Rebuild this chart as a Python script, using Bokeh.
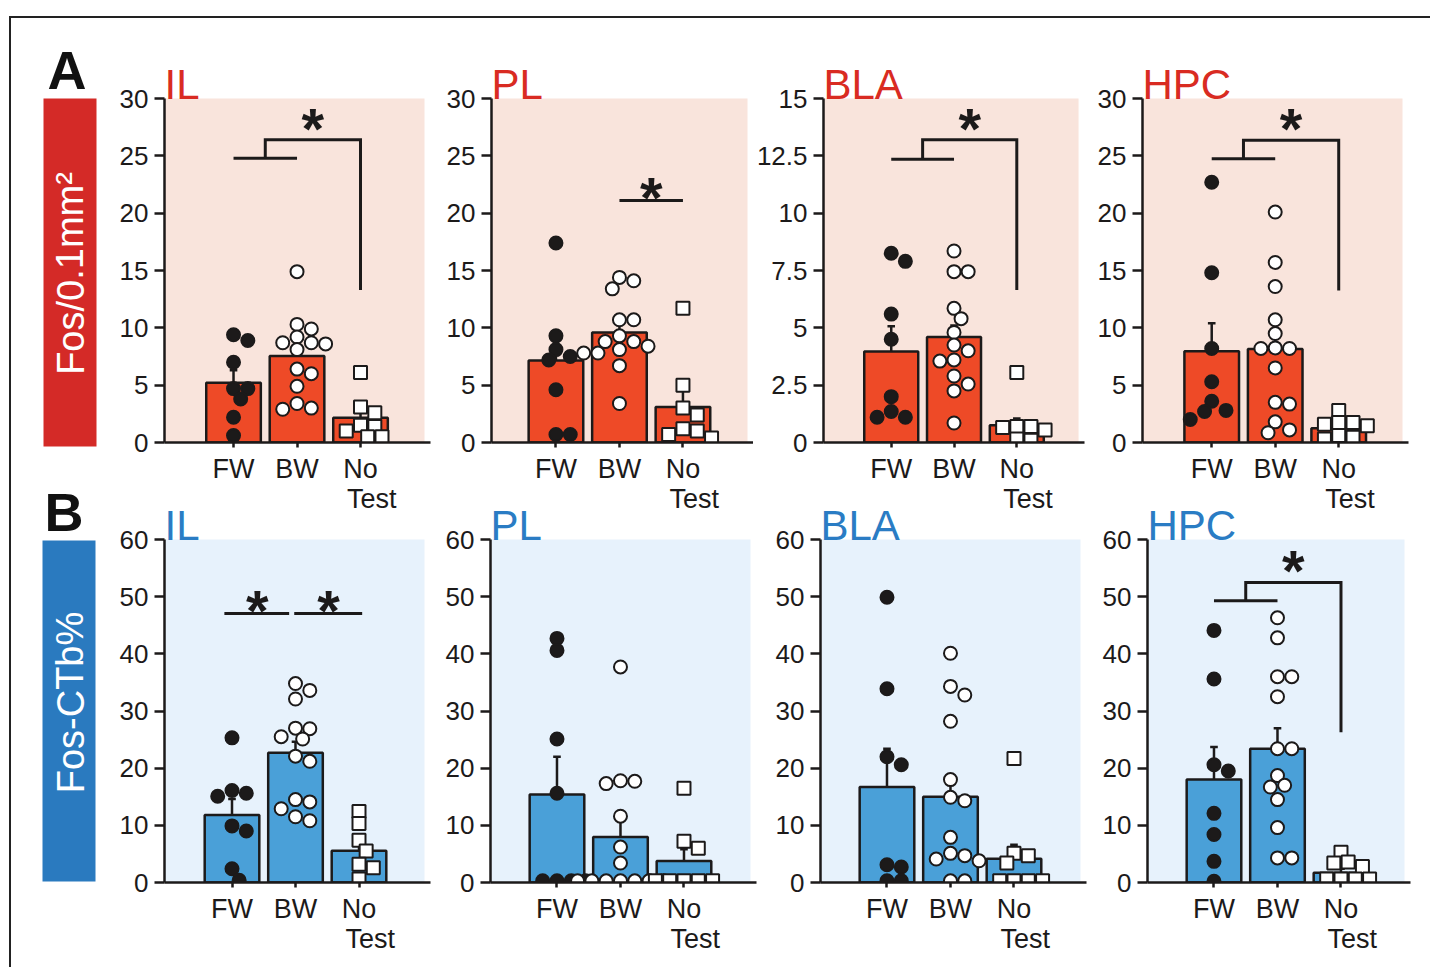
import math
from bokeh.plotting import figure
from bokeh.models import Range1d, FixedTicker, BoxAnnotation
from bokeh.layouts import row, column
from bokeh.embed import file_html
from bokeh.resources import INLINE
from bokeh.core.properties import value

# ---------------- data ----------------
GROUPS = ["FW", "BW", "No Test"]
REGIONS = ["IL", "PL", "BLA", "HPC"]

# Panel A: Fos/0.1mm2
A_IL_FW = [9.4, 8.9, 7.0, 4.7, 4.7, 3.8, 2.2, 0.6]
A_IL_BW = [14.9, 10.3, 9.9, 9.2, 8.7, 8.7, 8.6, 8.1, 6.4, 6.0, 4.9, 3.4, 3.0, 2.9]
A_IL_NT = [6.1, 3.1, 2.6, 1.5, 1.4, 1.0, 0.5, 0.5]
A_IL_MEAN = [5.2, 7.55, 2.15]
A_IL_SEM = [1.1, 0.8, 0.6]

A_PL_FW = [17.4, 9.3, 8.1, 7.5, 7.2, 4.6, 0.7, 0.7]
A_PL_BW = [14.4, 14.1, 13.4, 10.7, 10.7, 9.3, 8.8, 8.8, 8.4, 8.1, 7.8, 7.8, 6.7, 3.4]
A_PL_NT = [11.7, 5.0, 3.0, 2.4, 1.2, 1.0, 0.7, 0.4]
A_PL_MEAN = [7.15, 9.6, 3.1]
A_PL_SEM = [1.85, 0.8, 1.45]

A_BLA_FW = [8.25, 7.9, 5.6, 4.5, 2.0, 1.35, 1.1, 1.1]
A_BLA_BW = [8.35, 7.45, 7.45, 5.85, 5.4, 4.8, 4.25, 4.0, 3.6, 3.55, 2.9, 2.55, 2.25, 0.85]
A_BLA_NT = [3.05, 0.7, 0.7, 0.65, 0.55, 0.15, 0.1]
A_BLA_MEAN = [3.97, 4.6, 0.75]
A_BLA_SEM = [1.1, 0.5, 0.3]

A_HPC_FW = [22.7, 14.8, 8.2, 5.3, 3.6, 2.8, 2.7, 2.0]
A_HPC_BW = [20.1, 15.7, 13.6, 10.7, 9.5, 8.25, 8.2, 8.2, 6.5, 3.5, 3.35, 1.8, 1.1, 0.85]
A_HPC_NT = [2.8, 1.75, 1.75, 1.6, 1.45, 0.6, 0.45, 0.3]
A_HPC_MEAN = [7.95, 8.15, 1.25]
A_HPC_SEM = [2.45, 1.4, 0.55]

# Panel B: Fos-CTb%
B_IL_FW = [25.3, 16.1, 15.6, 15.1, 9.9, 9.0, 2.4, 0.4]
B_IL_BW = [34.8, 33.6, 32.1, 27.0, 26.9, 25.5, 25.1, 22.1, 21.2, 14.5, 14.1, 12.9, 11.5, 10.8]
B_IL_NT = [12.4, 10.3, 7.4, 5.5, 3.2, 2.6, 0.6]
B_IL_MEAN = [11.8, 22.7, 5.55]
B_IL_SEM = [2.8, 1.9, 1.2]

B_PL_FW = [42.7, 40.6, 25.1, 15.6, 0.3, 0.3, 0.3, 0.3]
B_PL_BW = [37.7, 17.8, 17.7, 17.3, 11.6, 6.2, 3.4, 0.3, 0.3, 0.3, 0.3, 0.3, 0.3, 0.3]
B_PL_NT = [16.5, 7.2, 6.0, 0.3, 0.3, 0.3, 0.3, 0.3]
B_PL_MEAN = [15.4, 7.95, 3.75]
B_PL_SEM = [6.6, 2.85, 2.05]

B_BLA_FW = [49.9, 33.9, 22.0, 20.6, 3.1, 2.7, 0.3, 0.3]
B_BLA_BW = [40.1, 34.3, 32.8, 28.2, 18.0, 14.9, 14.3, 7.9, 5.1, 4.7, 4.1, 3.8, 0.3, 0.3]
B_BLA_NT = [21.7, 5.1, 4.7, 3.4, 0.3, 0.3, 0.3, 0.3]
B_BLA_MEAN = [16.7, 15.0, 4.15]
B_BLA_SEM = [6.7, 3.7, 2.45]

B_HPC_FW = [44.1, 35.6, 20.6, 19.5, 12.1, 8.4, 3.7, 0.2]
B_HPC_BW = [46.3, 42.8, 36.0, 36.0, 32.5, 23.4, 23.4, 18.7, 17.0, 16.7, 14.5, 9.6, 4.3, 4.3]
B_HPC_NT = [5.3, 3.6, 3.4, 2.8, 0.6, 0.6, 0.6, 0.6]
B_HPC_MEAN = [18.0, 23.4, 1.7]
B_HPC_SEM = [5.7, 3.6, 0.7]

A_TICKS_30 = [0, 5, 10, 15, 20, 25, 30]
A_TICKS_15 = [0, 2.5, 5, 7.5, 10, 12.5, 15]
B_TICKS = [0, 10, 20, 30, 40, 50, 60]

# significance annotations (heights in data units)
SIG_A = [
    {"kind": "bracket", "lo": 24.8, "hi": 26.4, "drop": 13.3, "star": 28.45},
    {"kind": "lines", "segs": [(2.0, 3.0)], "y": 21.1, "stars": [(2.5, 22.4)]},
    {"kind": "bracket", "lo": 12.35, "hi": 13.2, "drop": 6.65, "star": 14.2},
    {"kind": "bracket", "lo": 24.75, "hi": 26.35, "drop": 13.25, "star": 28.4},
]
SIG_B = [
    {"kind": "lines", "segs": [(0.88, 1.9), (1.98, 3.05)], "y": 47.05,
     "stars": [(1.4, 49.7), (2.52, 49.7)]},
    None,
    None,
    {"kind": "bracket", "lo": 49.3, "hi": 52.5, "drop": 26.3, "star": 56.6},
]

# ---------------- style ----------------
FONT = "Liberation Sans"
INK = "#1c1a1a"
RED_BOX = "#d42a27"
RED_TXT = "#d92b22"
RED_BAR = "#ee4a27"
PINK = "#f9e4dc"
BLUE_BOX = "#2a7abf"
BLUE_TXT = "#2a7cc4"
BLUE_BAR = "#4aa0d8"
LBLUE = "#e7f2fc"
PPU_X = 63.5
STAR_SIZE = 58
TITLE_SIZE = 42
NBSP = "\u00a0"


def fmt(t):
    return str(int(t)) if float(t).is_integer() else str(t)


def swarm(vals, ppu_y, ppu_x, diam=13.0):
    order = sorted(range(len(vals)), key=lambda i: -vals[i])
    placed = []
    out = [0.0] * len(vals)
    step = diam * 0.55
    cands = [0.0]
    for j in range(1, 12):
        cands += [j * step, -j * step]
    for i in order:
        yv = vals[i] * ppu_y
        chosen = cands[-1]
        for c in cands:
            if all((c - px) ** 2 + (yv - py) ** 2 >= (diam * 0.92) ** 2 for px, py in placed):
                chosen = c
                break
        placed.append((chosen, yv))
        out[i] = chosen / ppu_x
    return out


def make_panel(title, tcolor, bg, barcol, ymax, ticks, fw, bw, nt, means, sems, sig,
               geo, vgeo, x0, title_px):
    wl, wf, wr = geo              # left border, frame width, right border (px)
    hf, hb, haxis = vgeo          # frame height, bottom border, height of the 0..ymax span (px)
    ppu_y = haxis / ymax
    x1 = x0 + wf / PPU_X
    p = figure(width=wl + wf + wr, height=hf + hb,
               x_range=Range1d(x0, x1), y_range=Range1d(0, hf / ppu_y),
               output_backend="svg", toolbar_location=None,
               min_border_left=wl, min_border_right=wr,
               min_border_top=0, min_border_bottom=hb)
    p.background_fill_color = None
    p.border_fill_color = None
    p.outline_line_color = None
    p.xgrid.visible = False
    p.ygrid.visible = False
    p.add_layout(BoxAnnotation(bottom=0, top=ymax, right=x0 + (wf - 6) / PPU_X,
                               fill_color=bg, fill_alpha=1.0, line_alpha=0.0,
                               level="underlay"))

    cats = [1, 2, 3]
    p.vbar(x=cats, top=means, bottom=0, width=0.86, fill_color=barcol,
           line_color=INK, line_width=2.5)
    tops = [m + s for m, s in zip(means, sems)]
    p.segment(x0=cats, y0=means, x1=cats, y1=tops, line_color=INK, line_width=2.5)
    p.segment(x0=[c - 0.06 for c in cats], y0=tops, x1=[c + 0.06 for c in cats], y1=tops,
              line_color=INK, line_width=2.5)

    for k, (vals, marker, fill) in enumerate([(fw, "circle", INK), (bw, "circle", "white"),
                                              (nt, "square", "white")]):
        offs = swarm(vals, ppu_y, PPU_X)
        xs = [cats[k] + o for o in offs]
        p.scatter(x=xs, y=vals, marker=marker, size=13, fill_color=fill,
                  line_color=INK, line_width=2)

    if sig is not None:
        if sig["kind"] == "bracket":
            p.line(x=[1, 2], y=[sig["lo"], sig["lo"]], line_color=INK, line_width=3)
            p.line(x=[1.5, 1.5, 3, 3], y=[sig["lo"], sig["hi"], sig["hi"], sig["drop"]],
                   line_color=INK, line_width=3, line_join="miter")
            stars = [(2.25, sig["star"])]
        else:
            for a, b in sig["segs"]:
                p.line(x=[a, b], y=[sig["y"], sig["y"]], line_color=INK, line_width=3)
            stars = sig["stars"]
        p.text(x=[s[0] for s in stars], y=[s[1] for s in stars], text=["*"] * len(stars),
               text_font=value(FONT), text_font_style="bold", text_font_size=f"{STAR_SIZE}px",
               text_align="center", text_baseline="middle", text_color=INK,
               y_offset=round(0.21 * STAR_SIZE))

    # region title, sitting on the top edge of the coloured area
    p.text(x=[x0], y=[ymax + title_px / ppu_y], text=[title], text_font=value(FONT),
           text_font_size=f"{TITLE_SIZE}px", text_color=tcolor, text_align="left",
           text_baseline="middle")

    # axes
    for ax in (p.xaxis[0], p.yaxis[0]):
        ax.axis_line_color = INK
        ax.axis_line_width = 2.5
        ax.major_tick_line_color = INK
        ax.major_tick_line_width = 2.5
        ax.minor_tick_line_color = None
        ax.major_tick_in = 0
        ax.major_label_text_font = FONT
        ax.major_label_text_color = INK
    p.xaxis.ticker = FixedTicker(ticks=cats)
    w1, w2 = GROUPS[2].split(" ")
    p.xaxis.major_label_overrides = {1: GROUPS[0], 2: GROUPS[1],
                                     3: w1 + "\n" + NBSP * 3 + w2}
    p.xaxis.major_label_text_font_size = "27px"
    p.xaxis.major_label_text_line_height = 1.0
    p.xaxis.major_tick_out = 5
    p.xaxis.major_label_standoff = 6
    p.yaxis.ticker = FixedTicker(ticks=ticks)
    p.yaxis.major_label_overrides = {t: fmt(t) for t in ticks}
    p.yaxis.major_label_text_font_size = "26px"
    p.yaxis.major_tick_out = 10
    p.yaxis.major_label_standoff = 6
    p.yaxis.bounds = (0, ymax)
    return p


VA = (424, 75, 344)
VB = (386, 85, 343)
OVERLAP = 21
GEO_A = [(56, 266, 6), (55, 262, 0), (67, 264, 4), (54, 266, 22)]
GEO_B = [(56, 266, 6), (54, 266, 4), (60, 266, 2), (59, 263, 20)]
X0_A = [-0.087, -0.015, -0.079, -0.09]
X0_B = [-0.063, -0.047, -0.047, -0.047]

A_DATA = [(A_IL_FW, A_IL_BW, A_IL_NT, A_IL_MEAN, A_IL_SEM, 30, A_TICKS_30),
          (A_PL_FW, A_PL_BW, A_PL_NT, A_PL_MEAN, A_PL_SEM, 30, A_TICKS_30),
          (A_BLA_FW, A_BLA_BW, A_BLA_NT, A_BLA_MEAN, A_BLA_SEM, 15, A_TICKS_15),
          (A_HPC_FW, A_HPC_BW, A_HPC_NT, A_HPC_MEAN, A_HPC_SEM, 30, A_TICKS_30)]
B_DATA = [(B_IL_FW, B_IL_BW, B_IL_NT, B_IL_MEAN, B_IL_SEM, 60, B_TICKS),
          (B_PL_FW, B_PL_BW, B_PL_NT, B_PL_MEAN, B_PL_SEM, 60, B_TICKS),
          (B_BLA_FW, B_BLA_BW, B_BLA_NT, B_BLA_MEAN, B_BLA_SEM, 60, B_TICKS),
          (B_HPC_FW, B_HPC_BW, B_HPC_NT, B_HPC_MEAN, B_HPC_SEM, 60, B_TICKS)]

row_a = []
for i, (fw, bw, nt, mn, se, ymax, tk) in enumerate(A_DATA):
    row_a.append(make_panel(REGIONS[i], RED_TXT, PINK, RED_BAR, ymax, tk, fw, bw, nt, mn, se,
                            SIG_A[i], GEO_A[i], VA, X0_A[i], 14.5))
row_b = []
for i, (fw, bw, nt, mn, se, ymax, tk) in enumerate(B_DATA):
    row_b.append(make_panel(REGIONS[i], BLUE_TXT, LBLUE, BLUE_BAR, ymax, tk, fw, bw, nt, mn, se,
                            SIG_B[i], GEO_B[i], VB, X0_B[i], 14.0))

# left decoration column: panel letters and coloured y-label boxes
LH = VA[0] + VA[1] + VB[0] + VB[1] - OVERLAP
left = figure(width=97, height=LH, x_range=Range1d(0, 97), y_range=Range1d(937 - LH, 937),
              output_backend="svg", toolbar_location=None, min_border=0)
left.axis.visible = False
left.grid.visible = False
left.outline_line_color = None
left.background_fill_color = "white"
left.border_fill_color = "white"
left.quad(left=[32, 31], right=[85, 84], top=[857, 415], bottom=[509, 74],
          fill_color=[RED_BOX, BLUE_BOX], line_color=None)
left.text(x=[59, 59], y=[682, 253], text=["Fos/0.1mm²", "Fos-CTb%"], angle=[math.pi / 2] * 2,
          text_font=value(FONT), text_font_size="38px", text_color="white",
          text_align="center", text_baseline="middle")
left.text(x=[36, 33], y=[886, 444], text=["A", "B"], text_font=value(FONT),
          text_font_style="bold", text_font_size="54px", text_color="#111111",
          text_align="left", text_baseline="middle")

rb = row(*row_b)
rb.margin = (-OVERLAP, 0, 0, 0)
layout = row(left, column(row(*row_a), rb))
layout.margin = (16, 0, 0, 9)
layout.styles = {"border-top": "2px solid #222222", "border-left": "2px solid #222222"}

open("out.html", "w").write(file_html(layout, INLINE))
